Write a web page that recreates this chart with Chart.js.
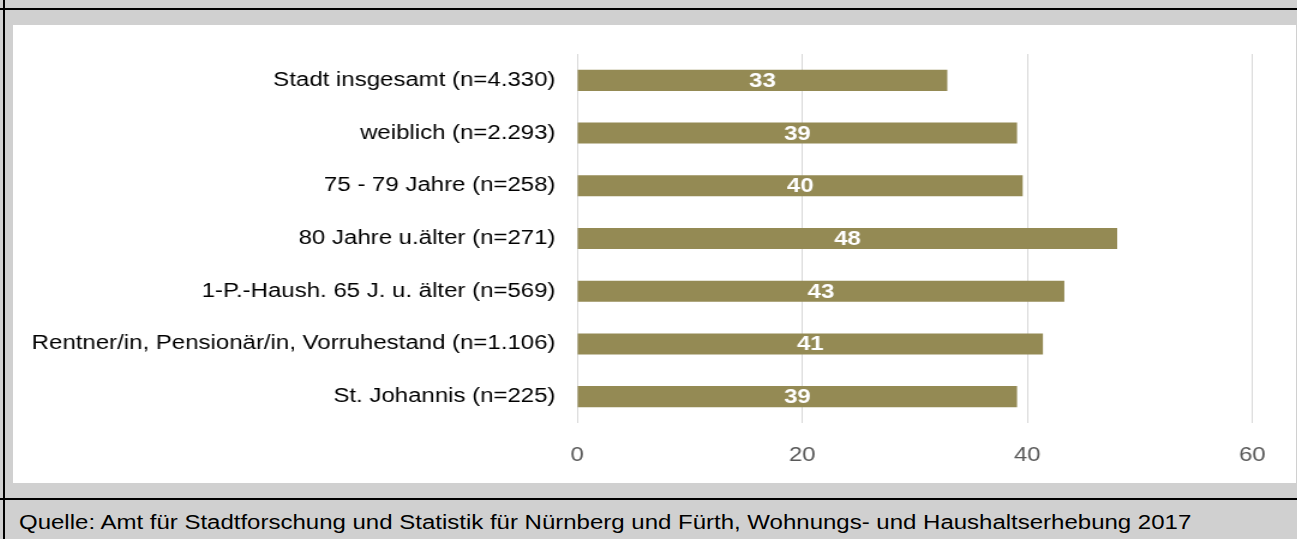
<!DOCTYPE html>
<html>
<head>
<meta charset="utf-8">
<script src="https://cdn.jsdelivr.net/npm/chart.js@4.4.1/dist/chart.umd.min.js"></script>
<style>
  body { margin: 0; width: 1297px; height: 539px; background: #d0d0d0; position: relative; overflow: hidden;
         font-family: "Liberation Sans", Arial, sans-serif; }
  .hline { position: absolute; left: 0; width: 1297px; height: 2px; background: #000; }
  .vline { position: absolute; left: 3px; top: 0; width: 2px; height: 539px; background: #000; }
  #box { position: absolute; left: 13px; top: 25px; width: 1283px; height: 458px; background: #fff; overflow: hidden; }
  /* the reference is stretched sideways, so the chart is drawn narrower and widened */
  #stretch { width: 1069px; height: 458px; transform: scaleX(1.2002); transform-origin: 0 0; }
  #source { position: absolute; left: 19px; top: 511px; font-size: 20px; color: #000; white-space: nowrap;
            transform: scaleX(1.2); transform-origin: 0 0; }
</style>
</head>
<body>
<div class="hline" style="top:8px"></div>
<div class="hline" style="top:498px"></div>
<div class="vline"></div>
<div id="box"><div id="stretch"><canvas id="myChart" width="1069" height="458"></canvas></div></div>
<div id="source">Quelle: Amt für Stadtforschung und Statistik für Nürnberg und Fürth, Wohnungs- und Haushaltserhebung 2017</div>
<script>
const FONT = "'Liberation Sans', Arial, sans-serif";

const categories = [
  'Stadt insgesamt (n=4.330)',
  'weiblich (n=2.293)',
  '75 - 79 Jahre (n=258)',
  '80 Jahre u.älter (n=271)',
  '1-P.-Haush. 65 J. u. älter (n=569)',
  'Rentner/in, Pensionär/in, Vorruhestand (n=1.106)',
  'St. Johannis (n=225)'
];
const values = [32.9, 39.1, 39.6, 48.0, 43.3, 41.4, 39.1];
const xTicks = [0, 20, 40, 60];

const BAR_COLOR = '#948A54';

// white value labels in the middle of each bar
const barLabels = {
  id: 'barLabels',
  afterDatasetsDraw(chart) {
    const ctx = chart.ctx;
    const meta = chart.getDatasetMeta(0);
    ctx.save();
    ctx.fillStyle = '#ffffff';
    ctx.font = 'bold 20px ' + FONT;
    ctx.textAlign = 'center';
    ctx.textBaseline = 'middle';
    meta.data.forEach((bar, i) => {
      ctx.fillText(String(Math.round(values[i])), (bar.x + bar.base) / 2, bar.y + 1);
    });
    ctx.restore();
  }
};

const ctx = document.getElementById('myChart');

const myChart = new Chart(ctx, {
  type: 'bar',
  data: {
    labels: categories,
    datasets: [{
      data: values,
      backgroundColor: BAR_COLOR,
      borderWidth: 0,
      barPercentage: 0.4,
      categoryPercentage: 1.0
    }]
  },
  options: {
    indexAxis: 'y',
    responsive: false,
    animation: false,
    layout: { padding: { top: 29, right: 36.5, left: 0, bottom: 0 } },
    plugins: {
      legend: { display: false },
      tooltip: { enabled: false }
    },
    scales: {
      x: {
        min: xTicks[0],
        max: xTicks[xTicks.length - 1],
        afterBuildTicks: (scale) => { scale.ticks = xTicks.map(v => ({ value: v })); },
        afterFit: (scale) => { scale.height = 60; },
        grid: { color: '#d9d9d9', lineWidth: 1, drawTicks: false },
        border: { display: false },
        ticks: {
          color: '#595959',
          padding: 20,
          font: { size: 20, family: FONT }
        }
      },
      y: {
        afterFit: (scale) => {
          scale.width = 470;
          scale.paddingTop = 0;
          scale.paddingBottom = 0;
        },
        grid: { display: false, drawTicks: false },
        border: { display: false },
        ticks: {
          color: '#000000',
          padding: 18,
          font: { size: 20, family: FONT }
        }
      }
    }
  },
  plugins: [barLabels]
});
</script>
</body>
</html>
